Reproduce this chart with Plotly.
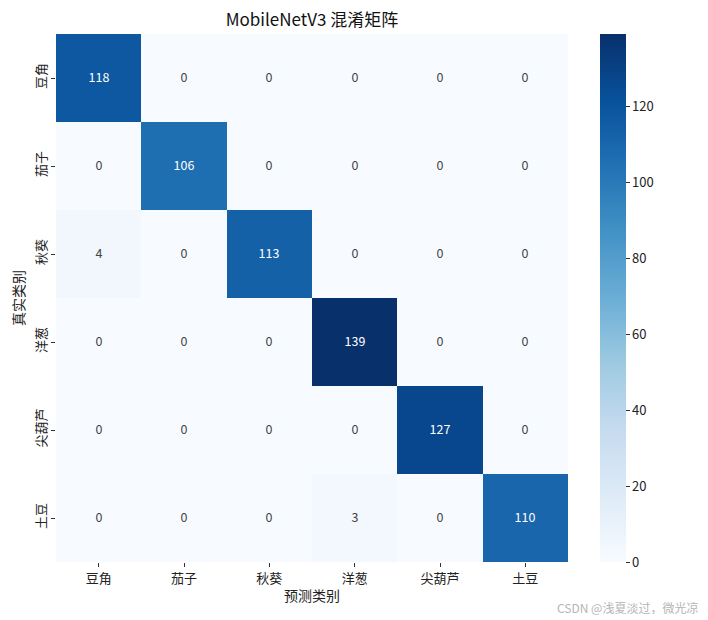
import plotly.graph_objects as go
import plotly.express as px

labels = ["豆角", "茄子", "秋葵", "洋葱", "尖葫芦", "土豆"]
matrix = [
    [118, 0, 0, 0, 0, 0],
    [0, 106, 0, 0, 0, 0],
    [4, 0, 113, 0, 0, 0],
    [0, 0, 0, 139, 0, 0],
    [0, 0, 0, 0, 127, 0],
    [0, 0, 0, 3, 0, 110],
]
cbar_ticks = [0, 20, 40, 60, 80, 100, 120]

FONT = "Noto Sans CJK SC"

fig = go.Figure(go.Heatmap(
    z=matrix, x=labels, y=labels,
    colorscale=px.colors.sequential.Blues,
    zmin=0, zmax=139,
    texttemplate="%{z}", textfont=dict(size=12.5, family=FONT),
    colorbar=dict(x=1.0625, xanchor="left", xpad=0, y=0.5, len=1, ypad=0,
                  thickness=26, outlinewidth=0, tickvals=cbar_ticks,
                  ticks="outside", ticklen=4, tickcolor="#333",
                  tickfont=dict(size=13, family=FONT, color="#222")),
    hoverongaps=False,
))

fig.update_layout(
    width=700, height=612,
    margin=dict(l=48, r=140, t=26, b=58),
    paper_bgcolor="white", plot_bgcolor="white",
    font=dict(family=FONT, color="#222"),
    title=dict(text="MobileNetV3 混淆矩阵", x=0.5, xref="paper", xanchor="center",
               y=1 - 12.5 / 612, yref="container", yanchor="middle",
               font=dict(size=17, family=FONT, color="#111")),
    xaxis=dict(title=dict(text="预测类别", font=dict(size=14), standoff=5),
               ticks="outside", ticklen=4, tickcolor="#333",
               tickfont=dict(size=13), showgrid=False, zeroline=False),
    yaxis=dict(title=dict(text="真实类别", font=dict(size=14), standoff=2),
               autorange="reversed", ticks="outside", ticklen=4, tickcolor="#333",
               tickangle=-90, tickfont=dict(size=13), showgrid=False, zeroline=False),
    annotations=[dict(text="CSDN @浅夏淡过，微光凉", xref="paper", yref="paper",
                      x=1 + 132 / 512, y=-45 / 528, xanchor="right", yanchor="middle",
                      showarrow=False, font=dict(size=12, color="#b5b5b5", family=FONT))],
)

fig.write_html("out.html")
